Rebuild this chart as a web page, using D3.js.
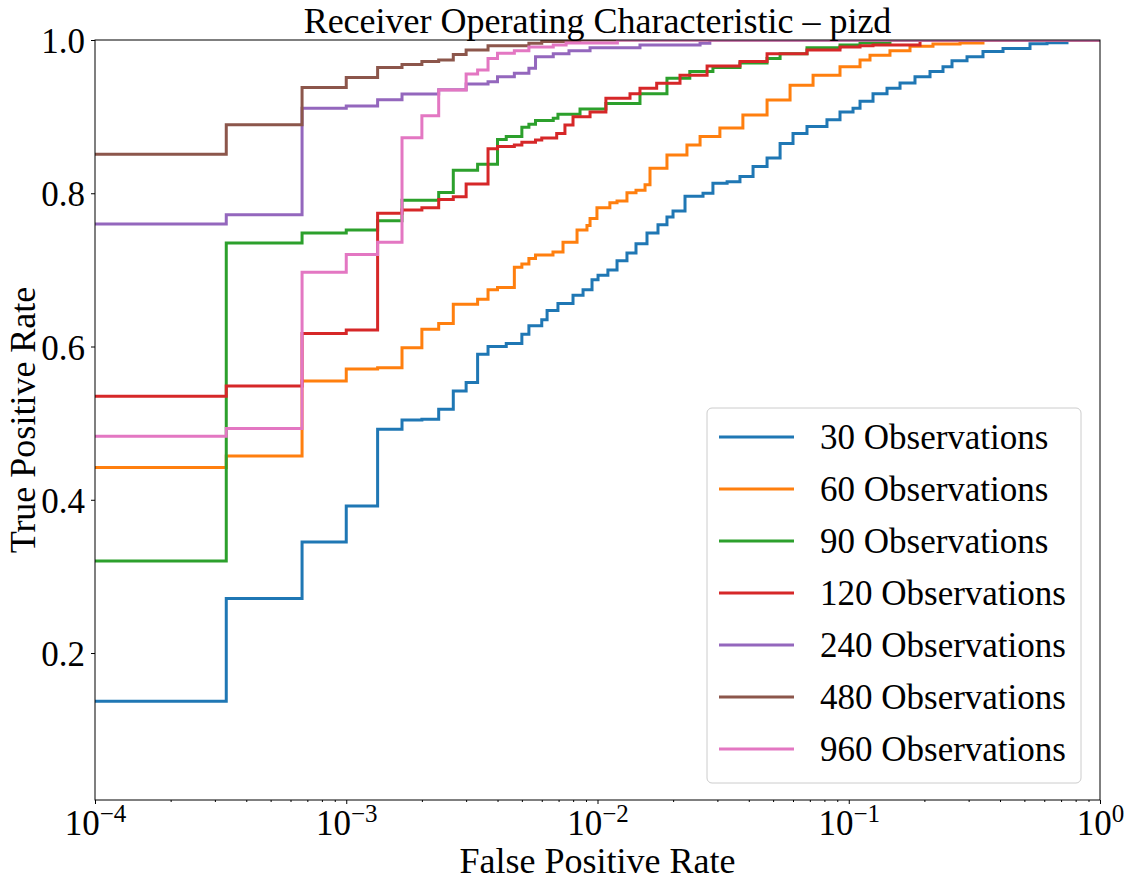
<!DOCTYPE html>
<html>
<head>
<meta charset="utf-8">
<script src="https://cdn.jsdelivr.net/npm/d3@7"></script>
<style>
body { margin: 0; background: #fff; }
text { font-family: "Liberation Serif", "Times New Roman", serif; fill: #000; }
</style>
</head>
<body>
<svg id="chart"></svg>
<script>
const width = 1128;
const height = 887;
const margin = {top: 40, right: 28, bottom: 87, left: 95};

const seriesNames = ["30 Observations", "60 Observations", "90 Observations", "120 Observations",
    "240 Observations", "480 Observations", "960 Observations"];
const seriesColors = ["#1f77b4", "#ff7f0e", "#2ca02c", "#d62728", "#9467bd", "#8c564b", "#e377c2"];

// [false positive rate, true positive rate]
const roc30 = [[0,0.137],[0.000333,0.271],[0.000667,0.345],[0.001,0.392],[0.001333,0.492],[0.001667,0.504],
    [0.002,0.505],[0.002333,0.518],[0.002667,0.542],[0.003,0.553],[0.003333,0.590],[0.003667,0.600],
    [0.004333,0.604],[0.005,0.616],[0.005333,0.627],[0.006,0.635],[0.0063,0.647],[0.00696,0.656],
    [0.00799,0.667],[0.00876,0.674],[0.00951,0.687],[0.01005,0.693],[0.0110,0.700],[0.01196,0.712],
    [0.0131,0.722],[0.01423,0.734],[0.01574,0.748],[0.01741,0.759],[0.0189,0.769],[0.01998,0.777],
    [0.0223,0.796],[0.0263,0.800],[0.0288,0.813],[0.0328,0.815],[0.0369,0.822],[0.0416,0.835],
    [0.0473,0.846],[0.0533,0.865],[0.0600,0.878],[0.0682,0.887],[0.0819,0.896],[0.0923,0.906],
    [0.104,0.911],[0.1109,0.920],[0.1249,0.930],[0.142,0.937],[0.160,0.944],[0.1835,0.952],
    [0.2106,0.959],[0.2372,0.965],[0.2576,0.973],[0.2956,0.978],[0.3422,0.985],[0.4112,0.989],
    [0.5265,0.995],[0.6153,0.9965],[0.739,1.0],[1,1]];
const roc60 = [[0,0.442],[0.000333,0.457],[0.000667,0.555],[0.001,0.5706],[0.001333,0.5723],[0.001667,0.5985],
    [0.002,0.6225],[0.002333,0.630],[0.002667,0.655],[0.003333,0.6616],[0.003667,0.674],[0.004,0.677],
    [0.004667,0.7033],[0.005,0.7077],[0.005333,0.715],[0.005667,0.7194],[0.00665,0.7235],[0.00729,0.736],
    [0.00829,0.752],[0.00908,0.758],[0.00934,0.767],[0.00995,0.781],[0.0112,0.7875],[0.01196,0.790],
    [0.0131,0.8007],[0.01423,0.804],[0.01546,0.811],[0.01618,0.8325],[0.0189,0.850],[0.0227,0.863],
    [0.0256,0.874],[0.0307,0.885],[0.0379,0.902],[0.0473,0.9217],[0.0584,0.941],[0.0721,0.954],
    [0.0923,0.965],[0.1109,0.974],[0.1215,0.980],[0.1459,0.986],[0.1753,0.992],[0.2164,0.9948],
    [0.2773,0.996],[0.3422,1.0],[1,1]];
const roc90 = [[0,0.320],[0.000333,0.735],[0.000667,0.748],[0.001,0.752],[0.001333,0.764],[0.001667,0.791],
    [0.002333,0.801],[0.002667,0.830],[0.003333,0.838],[0.004,0.870],[0.004333,0.874],[0.005,0.886],
    [0.005333,0.890],[0.005667,0.895],[0.006667,0.898],[0.00696,0.903],[0.00852,0.910],[0.0108,0.917],
    [0.01476,0.930],[0.0189,0.950],[0.0233,0.959],[0.0288,0.964],[0.0369,0.970],[0.0473,0.976],
    [0.0533,0.982],[0.0682,0.990],[0.0923,0.9935],[0.1109,0.996],[0.1459,1.0],[1,1]];
const roc120 = [[0,0.535],[0.000333,0.5485],[0.000667,0.617],[0.001,0.6215],[0.001333,0.774],[0.001667,0.778],
    [0.002,0.781],[0.002333,0.792],[0.002667,0.7955],[0.003,0.812],[0.003667,0.858],[0.004,0.861],
    [0.004667,0.863],[0.005,0.8665],[0.005667,0.8695],[0.006,0.872],[0.00688,0.878],[0.00742,0.889],
    [0.00799,0.900],[0.00934,0.906],[0.0108,0.924],[0.01347,0.930],[0.01476,0.937],[0.0172,0.9435],
    [0.0213,0.954],[0.0273,0.966],[0.0369,0.972],[0.0473,0.982],[0.0682,0.987],[0.0923,0.991],
    [0.1109,0.9926],[0.1249,0.9935],[0.1922,1.0],[1,1]];
const roc240 = [[0,0.760],[0.000333,0.772],[0.000667,0.911],[0.001,0.914],[0.001333,0.922],[0.001667,0.9295],
    [0.002333,0.935],[0.003,0.9426],[0.003667,0.9456],[0.004,0.952],[0.004667,0.9565],[0.005333,0.963],
    [0.005667,0.978],[0.006667,0.982],[0.0077,0.986],[0.00934,0.990],[0.01476,0.9935],[0.0256,0.9957],
    [0.028,1.0],[1,1]];
const roc480 = [[0,0.851],[0.000333,0.8895],[0.000667,0.938],[0.001,0.951],[0.001333,0.964],[0.001667,0.968],
    [0.002,0.972],[0.002333,0.974],[0.002667,0.981],[0.003,0.987],[0.003667,0.9926],[0.005333,0.9957],
    [0.006,0.998],[0.0085,1.0],[1,1]];
const roc960 = [[0,0.483],[0.000333,0.493],[0.000667,0.697],[0.001,0.720],[0.001333,0.736],[0.001667,0.8725],
    [0.002,0.901],[0.002333,0.9347],[0.003,0.9556],[0.003333,0.961],[0.003667,0.976],[0.004,0.9826],
    [0.004667,0.986],[0.005333,0.991],[0.006667,0.9935],[0.0075,0.996],[0.012,1.0],[1,1]];

const allRocs = [roc30, roc60, roc90, roc120, roc240, roc480, roc960];
const yTicks = [0.2, 0.4, 0.6, 0.8, 1.0];
const xTicks = [1e-4, 1e-3, 1e-2, 1e-1, 1];
const xTickExps = ["\u22124", "\u22123", "\u22122", "\u22121", "0"];

const svg = d3.select("#chart").attr("width", width).attr("height", height);

const x = d3.scaleLog().domain([1e-4, 1]).range([margin.left, width - margin.right]).clamp(true);
const y = d3.scaleLinear().domain([0.0082, 1]).range([height - margin.bottom, margin.top]);

svg.append("clipPath").attr("id", "plot-clip").append("rect")
    .attr("x", margin.left).attr("y", margin.top)
    .attr("width", width - margin.left - margin.right)
    .attr("height", height - margin.top - margin.bottom);

let line = d3.line().x(d => x(d[0])).y(d => y(d[1])).curve(d3.curveStepAfter);

svg.append("g").attr("clip-path", "url(#plot-clip)")
    .selectAll("path").data(allRocs).enter().append("path")
    .attr("d", line).attr("fill", "none")
    .attr("stroke", (_, i) => seriesColors[i]).attr("stroke-width", 3);

// axes
let yAxis = svg.append("g").attr("transform", `translate(${margin.left},0)`)
    .call(d3.axisLeft(y).tickValues(yTicks).tickFormat(d3.format(".1f")).tickSize(4).tickPadding(6));
yAxis.select(".domain").remove();
yAxis.selectAll("text").attr("font-family", null).style("font-size", "35px").attr("dy", "0.36em");

let minorTicks = x.ticks().filter(d => !xTicks.includes(d));
let xMinor = svg.append("g").attr("transform", `translate(0,${height - margin.bottom})`)
    .call(d3.axisBottom(x).tickValues(minorTicks).tickFormat("").tickSize(2));
xMinor.select(".domain").remove();

let xAxis = svg.append("g").attr("transform", `translate(0,${height - margin.bottom})`)
    .call(d3.axisBottom(x).tickValues(xTicks).tickFormat("").tickSize(4));
xAxis.select(".domain").remove();
xAxis.selectAll(".tick").append("text")
    .attr("y", 35).attr("text-anchor", "middle").style("font-size", "35px")
    .each(function(d, i) {
        let t = d3.select(this);
        t.append("tspan").text("10");
        t.append("tspan").attr("dy", -13).style("font-size", "25px").text(xTickExps[i]);
    });

svg.append("rect")
    .attr("x", margin.left).attr("y", margin.top)
    .attr("width", width - margin.left - margin.right)
    .attr("height", height - margin.top - margin.bottom)
    .attr("fill", "none").attr("stroke", "#000").attr("stroke-width", 1);

// labels
svg.append("text").attr("x", (margin.left + width - margin.right) / 2).attr("y", 33)
    .attr("text-anchor", "middle").style("font-size", "36px")
    .text("Receiver Operating Characteristic \u2013 pizd");
svg.append("text").attr("x", (margin.left + width - margin.right) / 2).attr("y", 873)
    .attr("text-anchor", "middle").style("font-size", "36px")
    .text("False Positive Rate");
svg.append("text").attr("transform", `translate(35,${(margin.top + height - margin.bottom) / 2}) rotate(-90)`)
    .attr("text-anchor", "middle").style("font-size", "36px")
    .text("True Positive Rate");

// legend
const legend = svg.append("g").attr("transform", "translate(707,408)");
legend.append("rect").attr("width", 374).attr("height", 375).attr("rx", 5)
    .attr("fill", "#fff").attr("fill-opacity", 0.8).attr("stroke", "#cccccc").attr("stroke-width", 1);
legend.selectAll("line").data(seriesNames).enter().append("line")
    .attr("x1", 12).attr("x2", 87).attr("y1", (_, i) => 29 + i * 52).attr("y2", (_, i) => 29 + i * 52)
    .attr("stroke", (_, i) => seriesColors[i]).attr("stroke-width", 3);
legend.selectAll("text").data(seriesNames).enter().append("text")
    .attr("x", 113).attr("y", (_, i) => 29 + i * 52).attr("dy", "0.35em")
    .style("font-size", "35px").text(d => d);
</script>
</body>
</html>
